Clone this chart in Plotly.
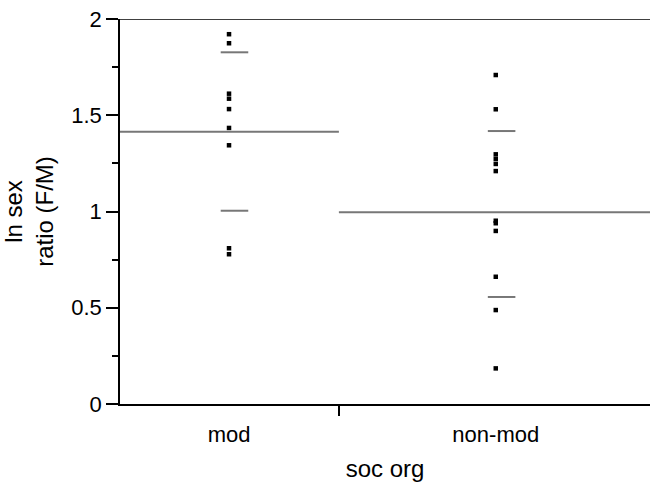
import plotly.graph_objects as go

# ---- data ----
categories = ["mod", "non-mod"]
cat_pos = [0.2057, 0.709]         # x position of each group (points + labels)
separator = 0.413                 # boundary tick between the groups

mod_values = [1.921, 1.874, 1.612, 1.586, 1.532, 1.434, 1.344, 0.809, 0.778]
nonmod_values = [1.709, 1.531, 1.297, 1.273, 1.247, 1.210, 0.952, 0.939,
                 0.899, 0.661, 0.488, 0.185]

group_means = [1.414, 0.996]
mean_spans = [(0.0, 0.413), (0.413, 1.0)]
sd_upper = [1.827, 1.418]
sd_lower = [1.004, 0.556]
sd_spans = [(0.19, 0.242), (0.694, 0.746)]

y_ticks = [0, 0.5, 1, 1.5, 2]
y_tick_text = ["0", "0.5", "1", "1.5", "2"]

FONT = "Liberation Sans, Arial, sans-serif"
GREY = "#777777"

fig = go.Figure()

for vals, xp in zip([mod_values, nonmod_values], cat_pos):
    fig.add_trace(go.Scatter(
        x=[xp] * len(vals), y=vals, mode="markers",
        marker=dict(symbol="square", size=4.5, color="black", line=dict(width=0)),
        showlegend=False, hoverinfo="y"))

for m, (a, b) in zip(group_means, mean_spans):
    fig.add_trace(go.Scatter(x=[a, b], y=[m, m], mode="lines",
                             line=dict(color=GREY, width=2),
                             showlegend=False, hoverinfo="skip"))

for up, lo, (a, b) in zip(sd_upper, sd_lower, sd_spans):
    for v in (up, lo):
        fig.add_trace(go.Scatter(x=[a, b], y=[v, v], mode="lines",
                                 line=dict(color=GREY, width=2),
                                 showlegend=False, hoverinfo="skip"))

# top border line
fig.add_shape(type="line", xref="paper", yref="y", x0=0, x1=1, y0=2, y1=2,
              line=dict(color="black", width=1.5))

fig.update_layout(
    width=650, height=482,
    margin=dict(l=120, r=0, t=19, b=78),
    paper_bgcolor="white", plot_bgcolor="white",
    font=dict(family=FONT, size=22, color="black"),
    xaxis=dict(
        range=[0, 1], showgrid=False, zeroline=False,
        showline=True, linecolor="black", linewidth=1.5,
        tickmode="array", tickvals=cat_pos, ticktext=categories,
        ticks="", ticklen=0, tickfont=dict(size=22), ticklabelstandoff=10,
        minor=dict(tickmode="array", tickvals=[separator], ticks="outside",
                   ticklen=10, tickwidth=1.5, tickcolor="black"),
        title=dict(text="soc org", font=dict(size=24), standoff=16),
    ),
    yaxis=dict(
        range=[0, 2], showgrid=False, zeroline=False,
        showline=True, linecolor="black", linewidth=1.5,
        tickmode="array", tickvals=y_ticks, ticktext=y_tick_text,
        ticks="outside", ticklen=12, tickwidth=1.5, tickcolor="black",
        tickfont=dict(size=22),
        minor=dict(dtick=0.25, ticks="outside", ticklen=6, tickwidth=1.5,
                   tickcolor="black"),
        title=dict(text="ln sex<br>ratio (F/M)", font=dict(size=24), standoff=12),
    ),
)

fig.write_html("out.html")
